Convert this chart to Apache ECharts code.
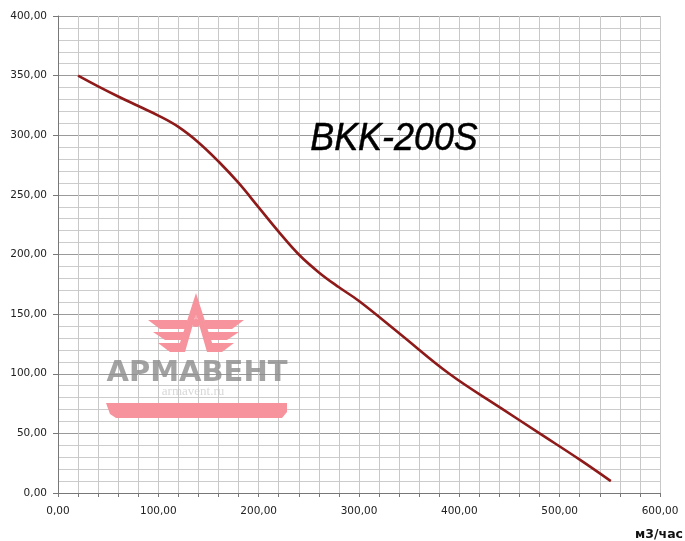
<!DOCTYPE html>
<html>
<head>
<meta charset="utf-8">
<script src="https://cdn.jsdelivr.net/npm/echarts@6/dist/echarts.min.js"></script>
<style>html,body{margin:0;padding:0;background:#fff;}#c{width:685px;height:541px;}</style>
</head>
<body>
<div id="c"></div>
<script>
// Data: airflow (m3/h) vs pressure
const flow = [20, 40, 60, 80, 100, 120, 140, 160, 180, 200, 220, 240, 260, 280, 300, 340, 390, 440, 480, 520, 551];
const pressure = [350, 341, 332.5, 324.5, 316.5, 307, 294, 278, 260, 239.5, 219, 200, 185, 172.5, 161, 134, 100, 72, 50, 28, 10];
const xTickLabels = ['0,00', '100,00', '200,00', '300,00', '400,00', '500,00', '600,00'];
const yTickLabels = ['0,00', '50,00', '100,00', '150,00', '200,00', '250,00', '300,00', '350,00', '400,00'];
const titleText = 'BKK-200S';
const unitText = 'м3/час';

const chart = echarts.init(document.getElementById('c'), null, {renderer: 'canvas'});
const pink = '#f7939c';
const labelFont = {color: '#222', fontFamily: 'DejaVu Sans', fontSize: 10.5};

chart.setOption({
  animation: false,
  backgroundColor: '#fff',
  grid: {left: 58, right: 25, top: 16, bottom: 48, containLabel: false},
  xAxis: {
    type: 'value', min: 0, max: 600, interval: 100,
    axisLine: {show: true, lineStyle: {color: '#777', width: 1}},
    axisTick: {show: true, length: 4, lineStyle: {color: '#777'}},
    minorTick: {show: true, splitNumber: 5, length: 4, lineStyle: {color: '#777'}},
    splitLine: {show: true, lineStyle: {color: '#c8c8c8', width: 1}},
    minorSplitLine: {show: true, lineStyle: {color: '#c8c8c8', width: 1}},
    axisLabel: Object.assign({margin: 13, formatter: (v, i) => xTickLabels[i]}, labelFont)
  },
  yAxis: {
    type: 'value', min: 0, max: 400, interval: 50,
    axisLine: {show: true, lineStyle: {color: '#777', width: 1}},
    axisTick: {show: true, length: 5, lineStyle: {color: '#777'}},
    minorTick: {show: false, splitNumber: 5},
    splitLine: {show: true, lineStyle: {color: '#9a9a9a', width: 1}},
    minorSplitLine: {show: true, lineStyle: {color: '#cccccc', width: 1}},
    axisLabel: Object.assign({margin: 11, formatter: (v, i) => yTickLabels[i]}, labelFont)
  },
  series: [{
    type: 'line',
    data: flow.map((x, i) => [x, pressure[i]]),
    smooth: 0.4,
    showSymbol: false,
    lineStyle: {color: '#8e1a1a', width: 2.6},
    z: 10
  }],
  graphic: [
    {type: 'text', x: 394, y: 139, originX: 0, originY: 0, scaleX: 0.92,
      style: {text: titleText, x: 0, y: 0, fill: '#000', stroke: '#000', lineWidth: 0.5, font: 'italic 39px "Liberation Sans", Arial, sans-serif', textAlign: 'center', textVerticalAlign: 'middle'}, z: 20},
    {type: 'text', style: {text: unitText, x: 683, y: 535, fill: '#111', font: 'bold 12.5px "DejaVu Sans", sans-serif', textAlign: 'right', textVerticalAlign: 'middle'}, z: 20},
    // watermark: emblem
    {type: 'polygon', shape: {points: [[196, 293], [215, 352], [207, 352], [196, 314], [185, 352], [177, 352]]}, style: {fill: pink}, z: 5},
    {type: 'circle', shape: {cx: 196, cy: 323, r: 4}, style: {fill: pink}, z: 5},
    {type: 'line', shape: {x1: 196, y1: 303, x2: 196, y2: 320}, style: {stroke: pink, lineWidth: 1.5}, z: 5},
    {type: 'polygon', shape: {points: [[148, 320], [187, 320], [190, 329], [160, 329]]}, style: {fill: pink}, z: 5},
    {type: 'polygon', shape: {points: [[153, 332], [186, 332], [188, 340], [165, 340]]}, style: {fill: pink}, z: 5},
    {type: 'polygon', shape: {points: [[158, 343], [183, 343], [184, 352], [170, 352]]}, style: {fill: pink}, z: 5},
    {type: 'polygon', shape: {points: [[244, 320], [205, 320], [202, 329], [232, 329]]}, style: {fill: pink}, z: 5},
    {type: 'polygon', shape: {points: [[239, 332], [206, 332], [204, 340], [227, 340]]}, style: {fill: pink}, z: 5},
    {type: 'polygon', shape: {points: [[234, 343], [209, 343], [208, 352], [222, 352]]}, style: {fill: pink}, z: 5},
    // watermark: wordmark
    {type: 'text', style: {text: 'АРМАВЕНТ', x: 197, y: 373, fill: 'rgba(140,140,140,0.8)', font: 'bold 29px "DejaVu Sans", sans-serif', textAlign: 'center', textVerticalAlign: 'middle'}, z: 5},
    {type: 'text', style: {text: 'armavent.ru', x: 193, y: 392, fill: 'rgba(200,200,200,0.7)', font: '13px "Liberation Serif", serif', textAlign: 'center', textVerticalAlign: 'middle'}, z: 5},
    {type: 'polygon', shape: {points: [[106, 403], [287, 403], [287, 412], [282, 418], [116, 418], [110, 414]]}, style: {fill: pink}, z: 5}
  ]
});
</script>
</body>
</html>
